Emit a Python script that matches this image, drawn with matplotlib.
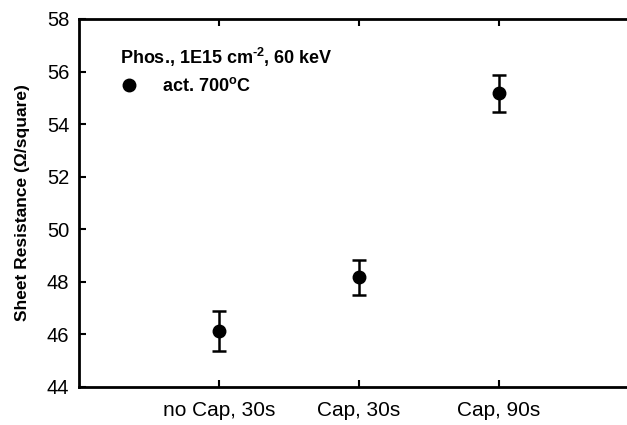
import numpy as np
import matplotlib
matplotlib.use('Agg')
import matplotlib.pyplot as plt
from matplotlib.lines import Line2D

plt.rcParams['font.family'] = ['Liberation Sans', 'DejaVu Sans']

categories = ['no Cap, 30s', 'Cap, 30s', 'Cap, 90s']
resistance = [46.13, 48.17, 55.17]
error = [0.75, 0.67, 0.69]

fig = plt.figure(figsize=(6.27, 4.25), dpi=100)
ax = fig.add_axes([79 / 627, 38 / 425, 560 / 627, 368 / 425])

x = np.arange(1, len(categories) + 1)
ax.errorbar(x, resistance, yerr=error, fmt='o', color='black', markersize=9,
            elinewidth=1.8, capsize=5, capthick=1.8)

ax.set_xlim(0, 4)
ax.set_ylim(44, 58)
ax.set_xticks(x)
ax.set_xticklabels(categories)
ax.set_yticks(np.arange(44, 59, 2))
ax.tick_params(direction='in', length=5, width=1.5, labelsize=14.5, top=True, pad=7)
ax.tick_params(axis='x', labelsize=15, pad=10)
for s in ax.spines.values():
    s.set_linewidth(2)

ax.set_ylabel('Sheet Resistance (\u03a9/square)', fontsize=12.5, fontweight='bold', labelpad=12)

# superscripts as plain text so the hyphen stays a hyphen
ax.text(0.073, 0.895, 'Phos., 1E15 cm$^\\mathregular{\u2010 2}$, 60 keV'.replace('\u2010 ', '\u2010'),
        transform=ax.transAxes, fontsize=13, fontweight='bold', va='center')
handle = Line2D([], [], marker='o', color='black', linestyle='none', markersize=9)
leg = ax.legend([handle], ['act. 700$^\\mathregular{o}$C'], loc='center left',
                bbox_to_anchor=(0.06, 0.817), frameon=False,
                prop={'size': 13, 'weight': 'bold'}, handlelength=1.0,
                handletextpad=1.33, borderaxespad=0)

plt.savefig('out.png', dpi=100)
